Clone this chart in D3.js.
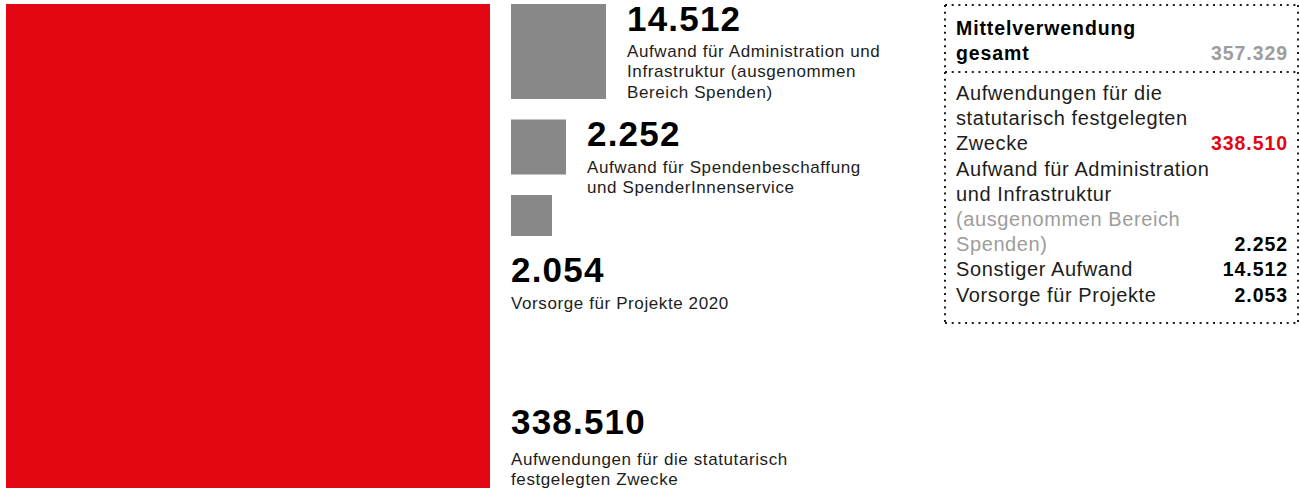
<!DOCTYPE html>
<html>
<head>
<meta charset="utf-8">
<script src="https://cdn.jsdelivr.net/npm/d3@7"></script>
<style>
  html, body { margin: 0; padding: 0; background: #fff; }
  svg { display: block; }
  text { font-family: "Liberation Sans", Arial, sans-serif; }
</style>
</head>
<body>
<svg id="chart" width="1300" height="492"></svg>
<script>
// ---------- data ----------
const categories = [
  "Aufwendungen für die statutarisch festgelegten Zwecke",
  "Aufwand für Administration und Infrastruktur (ausgenommen Bereich Spenden)",
  "Aufwand für Spendenbeschaffung und SpenderInnenservice",
  "Vorsorge für Projekte 2020"
];
const values = [338510, 14512, 2252, 2054];
const labelLines = [
  ["Aufwendungen für die statutarisch", "festgelegten Zwecke"],
  ["Aufwand für Administration und", "Infrastruktur (ausgenommen", "Bereich Spenden)"],
  ["Aufwand für Spendenbeschaffung", "und SpenderInnenservice"],
  ["Vorsorge für Projekte 2020"]
];

const tableTitle = ["Mittelverwendung", "gesamt"];
const tableTotal = 357329;
const tableRows = [
  { lines: ["Aufwendungen für die", "statutarisch festgelegten", "Zwecke"], muted: [false, false, false] },
  { lines: ["Aufwand für Administration", "und Infrastruktur", "(ausgenommen Bereich", "Spenden)"], muted: [false, false, true, true] },
  { lines: ["Sonstiger Aufwand"], muted: [false] },
  { lines: ["Vorsorge für Projekte"], muted: [false] }
];
const tableValues = [338510, 2252, 14512, 2053];

// ---------- helpers ----------
const de = d3.formatLocale({ decimal: ",", thousands: ".", grouping: [3], currency: ["", " €"] });
const fmt = de.format(",d");

const RED = "#e30613", GRAY = "#878787", TEXT = "#1d1d1b", MUTED = "#9d9d9c";

const svg = d3.select("#chart");

// square side scale (piecewise, as in the original graphic)
const side = d3.scaleLinear()
  .domain([2054, 2252, 14512, 338510])
  .range([41, 55, 95, 484]);

// ---------- big red square ----------
const redX = 6, redY = 4;
svg.append("rect")
  .attr("x", redX).attr("y", redY)
  .attr("width", side(values[0])).attr("height", side(values[0]))
  .attr("fill", RED);

// ---------- gray squares ----------
const grayX = redX + side(values[0]) + 21;
const gap = 20.5;
const grays = [];
let cy = redY;
values.slice(1).forEach((v, i) => {
  grays.push({ v, i: i + 1, y: cy, s: side(v) });
  cy += side(v) + gap;
});

svg.selectAll("rect.gray").data(grays).join("rect")
  .attr("class", "gray")
  .attr("x", grayX).attr("y", d => d.y)
  .attr("width", d => d.s).attr("height", d => d.s)
  .attr("fill", GRAY);

function bigNumber(x, y, v) {
  svg.append("text")
    .attr("x", x).attr("y", y)
    .attr("font-size", 35).attr("font-weight", "bold")
    .attr("letter-spacing", 1.2)
    .attr("fill", "#000")
    .text(fmt(v));
}
function label(x, y, lines) {
  const t = svg.append("text")
    .attr("font-size", 17).attr("letter-spacing", 0.6)
    .attr("fill", TEXT);
  lines.forEach((l, k) => {
    t.append("tspan").attr("x", x).attr("y", y + k * 20.3).text(l);
  });
}

// labels beside first two gray squares
grays.slice(0, 2).forEach(d => {
  const x = grayX + d.s + 21;
  bigNumber(x, d.y + 26.5, d.v);
  label(x, d.y + 53, labelLines[d.i]);
});
// label below the third gray square
{
  const d = grays[2];
  bigNumber(grayX, d.y + d.s + 46, d.v);
  label(grayX, d.y + d.s + 72.5, labelLines[d.i]);
}
// label for red square at bottom
{
  const bottom = redY + side(values[0]);
  bigNumber(grayX, bottom - 54, values[0]);
  label(grayX, bottom - 23.5, labelLines[0]);
}

// ---------- table ----------
const tx0 = 945, tx1 = 1298, ty0 = 5, tsep = 72, ty1 = 323;
const textL = 956, textR = 1287;
const dots = { stroke: "#1d1d1b", "stroke-width": 2, "stroke-dasharray": "2,4.7" };
function dotted(x1, y1, x2, y2) {
  const l = svg.append("line").attr("x1", x1).attr("y1", y1).attr("x2", x2).attr("y2", y2);
  Object.entries(dots).forEach(([k, v]) => l.attr(k, v));
}
dotted(tx0, ty0, tx1, ty0);
dotted(tx0, tsep, tx1, tsep);
dotted(tx0, ty1, tx1, ty1);
dotted(tx0, ty0, tx0, ty1);
dotted(tx1, ty0, tx1, ty1);

// title
const title = svg.append("text")
  .attr("font-size", 19.5).attr("font-weight", "bold").attr("letter-spacing", 0.9)
  .attr("fill", "#000");
tableTitle.forEach((l, k) => {
  title.append("tspan").attr("x", textL).attr("y", 35 + k * 24.5).text(l);
});
svg.append("text")
  .attr("x", textR + 0.9).attr("y", 59.5)
  .attr("text-anchor", "end")
  .attr("font-size", 19.5).attr("font-weight", "bold").attr("letter-spacing", 0.9)
  .attr("fill", MUTED)
  .text(fmt(tableTotal));

// rows
const lineH = 25, rowGap = 0.7;
let by = 100;
tableRows.forEach((row, r) => {
  row.lines.forEach((l, k) => {
    svg.append("text")
      .attr("x", textL).attr("y", by + k * lineH)
      .attr("font-size", 20).attr("letter-spacing", 0.6)
      .attr("fill", row.muted[k] ? MUTED : TEXT)
      .text(l);
  });
  const lastY = by + (row.lines.length - 1) * lineH;
  svg.append("text")
    .attr("x", textR + 0.9).attr("y", lastY)
    .attr("text-anchor", "end")
    .attr("font-size", 19.5).attr("font-weight", "bold").attr("letter-spacing", 0.9)
    .attr("fill", r === 0 ? RED : "#000")
    .text(fmt(tableValues[r]));
  by = lastY + lineH + rowGap;
});
</script>
</body>
</html>
